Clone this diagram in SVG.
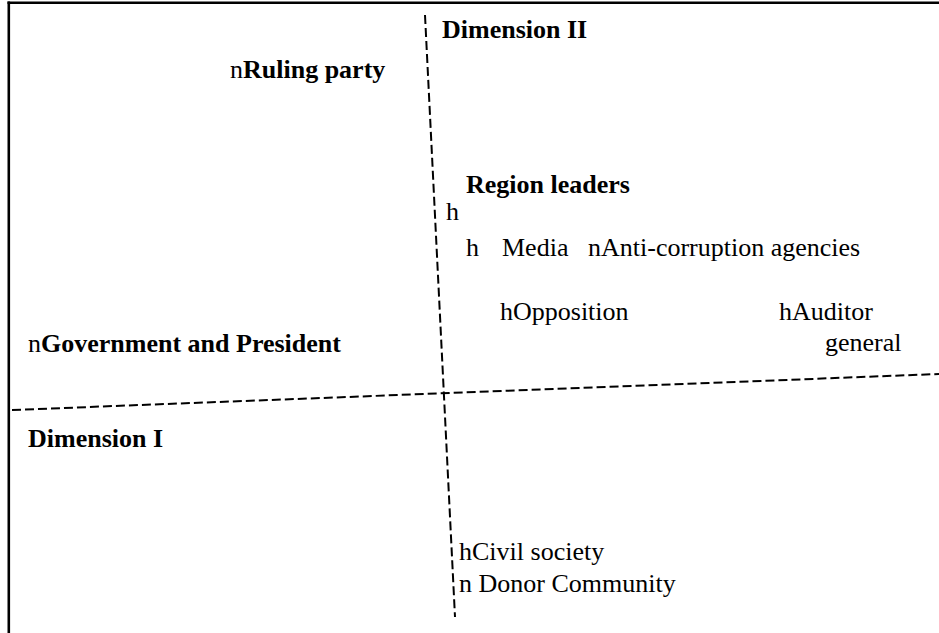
<svg xmlns="http://www.w3.org/2000/svg" width="939" height="633" viewBox="0 0 939 633" font-family="'Liberation Serif', 'Times New Roman', serif">
<style>
text{font-family:'Liberation Serif','Times New Roman',serif;font-size:26px;fill:#000}
.b{font-weight:bold}
.frame{stroke:#000;stroke-width:2.6;fill:none}
.axis{stroke:#000;stroke-width:2;stroke-dasharray:9 4;fill:none}
</style>
<rect width="939" height="633" fill="#fff"/>
<g id="frame">
<line class="frame" x1="7.5" y1="2.8" x2="939" y2="2.8"/>
<line class="frame" x1="8.8" y1="1.5" x2="8.8" y2="633"/>
</g>
<g id="connectors">
<line class="axis" x1="425" y1="15" x2="455" y2="617"/>
<line class="axis" x1="12" y1="410" x2="939" y2="374"/>
</g>
<g id="dim2"><text class="b" x="442" y="38">Dimension II</text></g>
<g id="dim1"><text class="b" x="28" y="447">Dimension I</text></g>
<g id="ruling"><text x="230" y="78">n<tspan class="b">Ruling party</tspan></text></g>
<g id="region"><text class="b" x="466" y="193">Region leaders</text><text x="446" y="220">h</text></g>
<g id="media"><text x="466" y="256">h</text><text x="502" y="256">Media</text></g>
<g id="anticorr"><text x="588" y="256">nAnti-corruption agencies</text></g>
<g id="opposition"><text x="500" y="320">hOpposition</text></g>
<g id="auditor"><text x="779" y="320">hAuditor</text><text x="825" y="351">general</text></g>
<g id="gov"><text x="28" y="352">n<tspan class="b">Government and President</tspan></text></g>
<g id="civil"><text x="459" y="560">hCivil society</text></g>
<g id="donor"><text x="459" y="592">n Donor Community</text></g>
</svg>
